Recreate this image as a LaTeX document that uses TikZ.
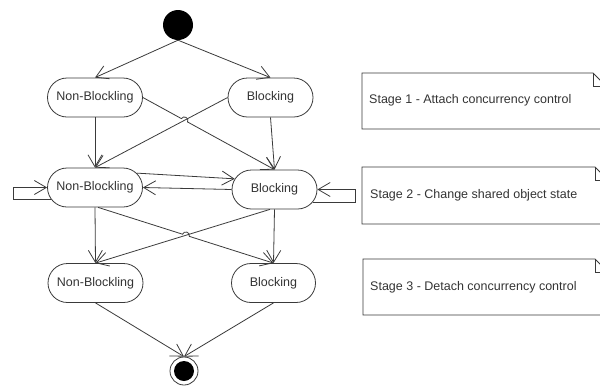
\documentclass[tikz,border=0pt]{standalone}
\usepackage{fontspec}
\setmainfont{Liberation Sans}
\usetikzlibrary{arrows.meta,shapes.misc,calc,intersections}
\definecolor{ln}{HTML}{3A3A3A}
\definecolor{tx}{HTML}{333333}
\begin{document}
\begin{tikzpicture}[x=1pt,y=-1pt,
  state/.style={rounded rectangle, draw=ln, line width=0.8pt, minimum height=39pt,
    inner sep=0pt, text=tx, font=\fontsize{12.5}{14}\selectfont},
  arr/.style={draw=ln, line width=0.8pt,
    -{Straight Barb[length=12pt,width=14pt,line width=0.8pt]}},
  hop/.style={bend left=90, looseness=1.6},
  note/.style={draw=ln, line width=0.8pt, line join=miter},
  ntext/.style={anchor=west, text=tx, inner sep=0pt, font=\fontsize{12.5}{14}\selectfont}]
\useasboundingbox (0,0) rectangle (600,386);
\clip (0,0) rectangle (600,386);

% states
\node[state, minimum width=95pt] (nb1) at (95,97.5) {Non-Blockling};
\node[state, minimum width=85pt] (b1) at (270.5,97.5) {Blocking};
\node[state, minimum width=95pt] (nb2) at (95,187.5) {Non-Blockling};
\node[state, minimum width=85pt] (b2) at (274.5,189.5) {Blocking};
\node[state, minimum width=95pt] (nb3) at (95.5,283) {Non-Blockling};
\node[state, minimum width=84pt] (b3) at (273.5,283) {Blocking};
\node[circle, fill=black, minimum size=30pt, inner sep=0pt] (init) at (178,25) {};
\node[circle, draw=ln, fill=white, line width=0.8pt, minimum size=28pt, inner sep=0pt] (fin) at (184,371) {};
\fill[black] (fin) circle (10pt);

% stage 1 transitions
\draw[arr] (init.south) -- (nb1.north);
\draw[arr] (init.south) -- (b1.north);
\draw[arr] (nb1.south) -- (nb2.north);
\draw[arr] (b1.south) -- (b2.north);
\path[name path=p1] (b1.west) -- (nb2.north);
\draw[arr] (b1.west) -- (nb2.north);
\path[name path=p2] (nb1.east) -- (b2.north);
\path[name intersections={of=p1 and p2, by=x1}];
\draw[arr] (nb1.east) -- ($(x1)!3.5pt!(nb1.east)$) to[hop] ($(x1)!3.5pt!(b2.north)$) -- (b2.north);

% stage 2 transitions
\draw[arr] (nb2.19) -- (b2.165);
\draw[arr] (b2.west) -- (nb2.east);
\draw[arr] (nb2.195) -- ++(-38,0) |- (nb2.west);
\draw[arr] (b2.342) -- ++(42,0) |- (b2.east);

% stage 3 transitions
\path[name path=p3] (b2.257) -- (nb3.north);
\draw[arr] (b2.257) -- (nb3.north);
\path[name path=p4] (nb2.279) -- (b3.north);
\path[name intersections={of=p3 and p4, by=x2}];
\draw[arr] (nb2.279) -- ($(x2)!3.5pt!(nb2.279)$) to[hop] ($(x2)!3.5pt!(b3.north)$) -- (b3.north);
\draw[arr] (nb2.south) -- (nb3.north);
\draw[arr] (b2.south) -- (b3.north);
\draw[arr] (nb3.south) -- (fin.north);
\draw[arr] (b3.south) -- (fin.north);

% notes
\draw[note] (362,73) -- (593,73) -- (606,86) -- (606,129) -- (362,129) -- cycle;
\draw[note] (593,73) -- (593,86) -- (606,86);
\node[ntext] (s1) at (369,100) {Stage 1 - Attach concurrency control};

\draw[note] (362,167) -- (595,167) -- (608,180) -- (608,224) -- (362,224) -- cycle;
\draw[note] (595,167) -- (595,180) -- (608,180);
\node[ntext] (s2) at (370,195.5) {Stage 2 - Change shared object state};

\draw[note] (363,259) -- (595,259) -- (608,272) -- (608,315) -- (363,315) -- cycle;
\draw[note] (595,259) -- (595,272) -- (608,272);
\node[ntext] (s3) at (370,287) {Stage 3 - Detach concurrency control};
\end{tikzpicture}
\end{document}
